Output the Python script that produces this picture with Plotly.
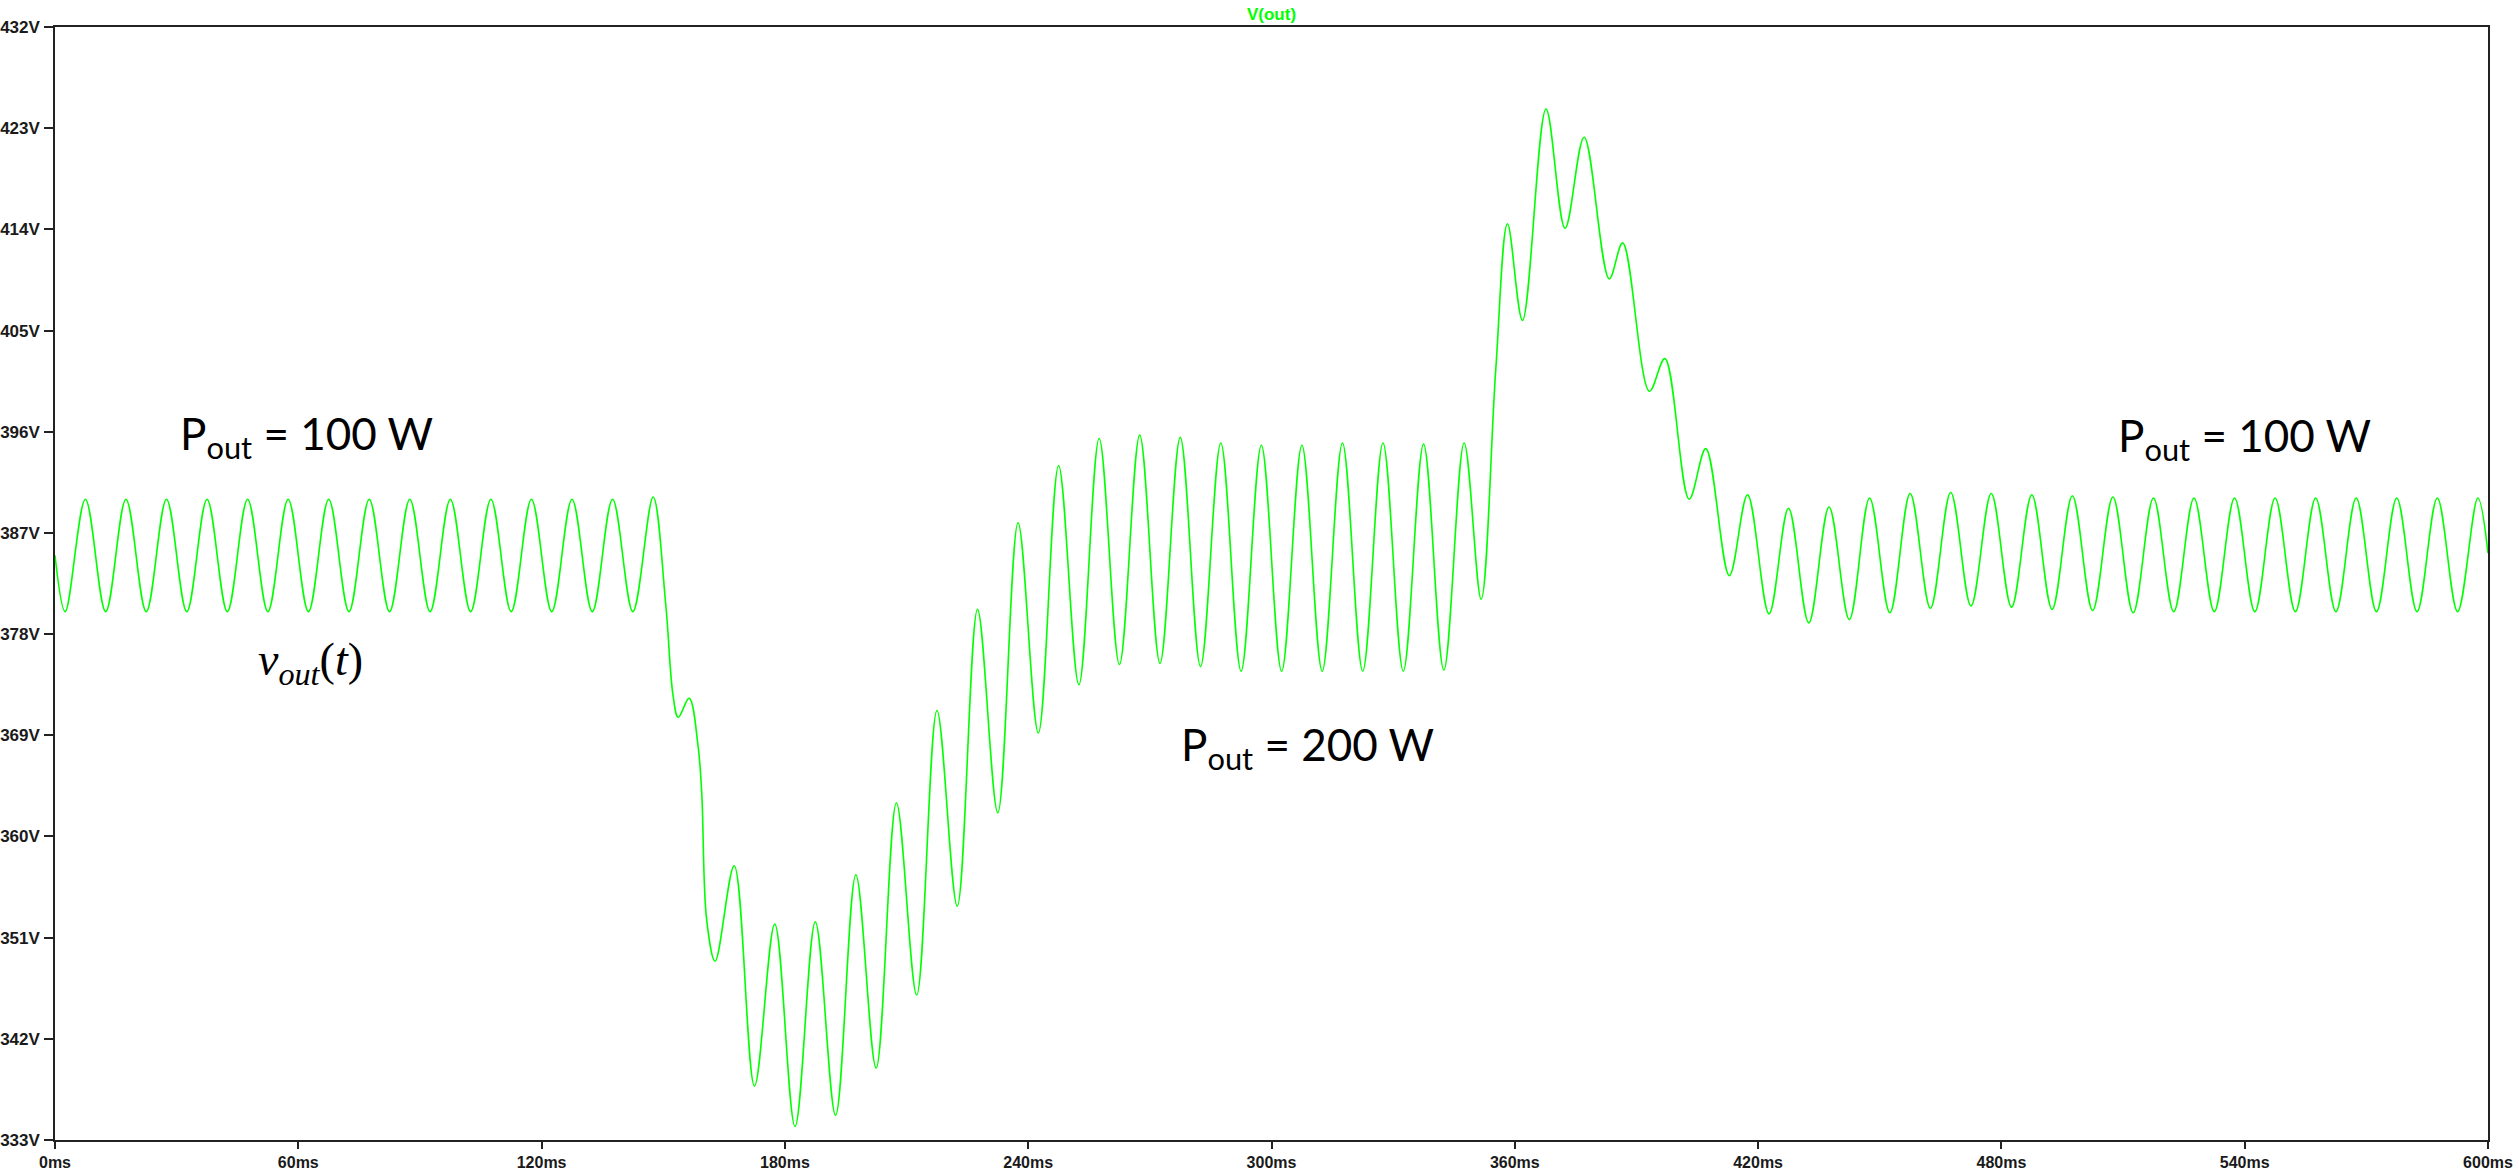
import plotly.graph_objects as go

# ---- data (time in ms, voltage in V) ----
# steady state, P_out = 100 W
t_steady1 = [0, 2.5, 7.5, 12.5, 17.5, 22.5, 27.5, 32.5, 37.5, 42.5, 47.5,
             52.5, 57.5, 62.5, 67.5, 72.5, 77.5, 82.5, 87.5, 92.5, 97.5,
             102.5, 107.5, 112.5, 117.5, 122.5, 127.5, 132.5, 137.5, 142.5, 147.5]
v_steady1 = [385.0, 380.0, 390.0, 380.0, 390.0, 380.0, 390.0, 380.0, 390.0, 380.0, 390.0,
             380.0, 390.0, 380.0, 390.0, 380.0, 390.0, 380.0, 390.0, 380.0, 390.0,
             380.0, 390.0, 380.0, 390.0, 380.0, 390.0, 380.0, 390.0, 380.0, 390.2]

# load step up to P_out = 200 W
t_step_up = [150.6, 152.4, 153.7, 156.4, 158.6, 159.5, 160.7, 162.8, 167.5, 172.5,
             177.5, 182.5, 187.5, 192.5, 197.5, 202.5, 207.5, 212.5, 217.5, 222.5,
             227.5, 232.5, 237.5, 242.5, 247.5, 252.5, 257.5, 262.5, 267.5, 272.5,
             277.5, 282.5, 287.5, 292.5, 297.5, 302.5, 307.5, 312.5, 317.5, 322.5,
             327.5, 332.5, 337.5, 342.5, 347.5]
v_step_up = [380.7, 372.6, 370.6, 372.3, 368.0, 363.8, 352.6, 348.9, 357.4, 337.8,
             352.2, 334.2, 352.4, 335.2, 356.6, 339.4, 363.0, 345.9, 371.2, 353.8,
             380.2, 362.1, 387.9, 369.2, 393.0, 373.5, 395.4, 375.3, 395.7, 375.4,
             395.5, 375.1, 395.0, 374.7, 394.8, 374.7, 394.8, 374.7, 395.0, 374.7,
             395.0, 374.7, 394.9, 374.8, 395.0]

# load step back down to P_out = 100 W
t_step_down = [351.7, 355.3, 358.2, 361.9, 367.7, 372.4, 377.1, 383.3, 386.6, 393.2,
               397.0, 403.0, 407.1, 412.9, 417.4, 422.7, 427.5, 432.5, 437.5]
v_step_down = [381.1, 401.5, 414.5, 405.9, 424.7, 414.1, 422.2, 409.6, 412.8, 399.6,
               402.5, 390.0, 394.5, 383.2, 390.4, 379.8, 389.2, 379.0, 389.3]

# steady state again, P_out = 100 W
t_steady2 = [442.5, 447.5, 452.5, 457.5, 462.5, 467.5, 472.5, 477.5, 482.5, 487.5,
             492.5, 497.5, 502.5, 507.5, 512.5, 517.5, 522.5, 527.5, 532.5, 537.5,
             542.5, 547.5, 552.5, 557.5, 562.5, 567.5, 572.5, 577.5, 582.5, 587.5,
             592.5, 597.5, 600]
v_steady2 = [379.3, 390.1, 379.9, 390.5, 380.3, 390.6, 380.5, 390.5, 380.4, 390.4,
             380.2, 390.3, 380.1, 390.2, 379.9, 390.1, 380.0, 390.1, 380.0, 390.1,
             380.0, 390.1, 380.0, 390.1, 380.0, 390.1, 380.0, 390.1, 380.0, 390.1,
             380.0, 390.1, 385.2]

x_ticks = [0, 60, 120, 180, 240, 300, 360, 420, 480, 540, 600]
x_ticktext = ["0ms", "60ms", "120ms", "180ms", "240ms", "300ms", "360ms",
              "420ms", "480ms", "540ms", "600ms"]
y_ticks = [333, 342, 351, 360, 369, 378, 387, 396, 405, 414, 423, 432]
y_ticktext = ["333V", "342V", "351V", "360V", "369V", "378V", "387V",
              "396V", "405V", "414V", "423V", "432V"]

t_all = t_steady1 + t_step_up + t_step_down + t_steady2
v_all = v_steady1 + v_step_up + v_step_down + v_steady2

GREEN = "#00ff00"

fig = go.Figure()
fig.add_trace(go.Scatter(
    x=t_all, y=v_all, mode="lines",
    line=dict(color=GREEN, width=1.6, shape="spline", smoothing=1.0),
    hoverinfo="skip", showlegend=False,
))

tick_font = dict(family="Liberation Sans, Arial", size=17, color="#1a1a1a", weight="bold")
xtick_font = dict(family="Liberation Sans, Arial", size=16, color="#1a1a1a", weight="bold")

fig.update_layout(
    width=2519, height=1172,
    margin=dict(l=55, r=31, t=27, b=32, autoexpand=False),
    paper_bgcolor="white", plot_bgcolor="white",
    title=dict(text="V(out)", x=0.5, xref="paper", y=1 - 14 / 1172, yref="container",
               xanchor="center", yanchor="middle",
               font=dict(family="Liberation Sans, Arial", size=17, color=GREEN, weight="bold")),
    xaxis=dict(range=[0, 600], tickvals=x_ticks, ticktext=x_ticktext,
               showgrid=False, zeroline=False, showline=True, linecolor="#222",
               linewidth=1.5, mirror=True, ticks="outside", ticklen=7, tickwidth=1.5,
               tickcolor="#222", tickfont=xtick_font, automargin=False, ticklabelstandoff=0),
    yaxis=dict(range=[333, 432], tickvals=y_ticks, ticktext=y_ticktext,
               showgrid=False, zeroline=False, showline=True, linecolor="#222",
               linewidth=1.5, mirror=True, ticks="outside", ticklen=9, tickwidth=1.5,
               tickcolor="#222", tickfont=tick_font, automargin=False, ticklabelstandoff=1),
)

label_font = dict(family="Lato, Open Sans, sans-serif", size=44, color="black")
labels = [
    ("P<sub>out</sub> = 100 W", 62.0, 395.6),
    ("P<sub>out</sub> = 200 W", 308.8, 367.9),
    ("P<sub>out</sub> = 100 W", 540.0, 395.4),
]
for text, xv, yv in labels:
    fig.add_annotation(x=xv, y=yv, xref="x", yref="y", text=text, showarrow=False,
                       xanchor="center", yanchor="middle", font=label_font)

fig.add_annotation(x=63.0, y=375.4, xref="x", yref="y",
                   text="<i>v<sub>out</sub></i>(<i>t</i>)", showarrow=False,
                   xanchor="center", yanchor="middle",
                   font=dict(family="Liberation Serif, Times New Roman, serif", size=46, color="black"))

fig.write_html(
    "out.html",
    config={"displayModeBar": False},
    post_script="document.body.style.margin='0';document.body.style.overflow='hidden';",
)
